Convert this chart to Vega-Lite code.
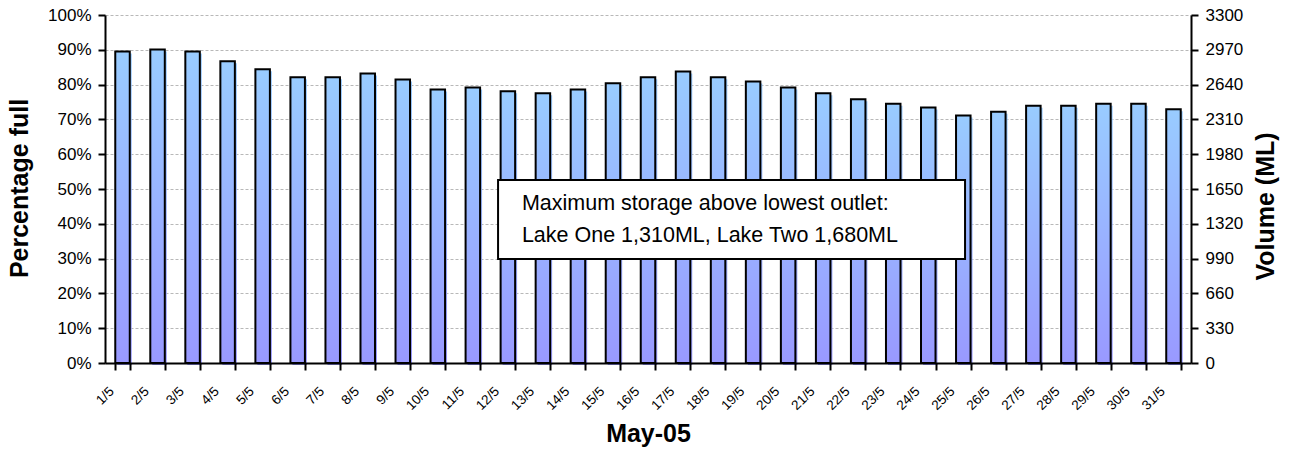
{
  "$schema": "https://vega.github.io/schema/vega-lite/v6.json",
  "width": 1086,
  "height": 348,
  "autosize": {"type": "none"},
  "padding": {"left": 105, "top": 15, "right": 98, "bottom": 96},
  "background": "white",
  "config": {
    "font": "Liberation Sans",
    "view": {"stroke": null},
    "axis": {"labelFont": "Liberation Sans", "titleFont": "Liberation Sans", "labelColor": "black", "titleColor": "black"}
  },
  "datasets": {
    "days": [
      {"day": "1/5", "pct": 89.5, "vol": 2954},
      {"day": "2/5", "pct": 90.1, "vol": 2973},
      {"day": "3/5", "pct": 89.5, "vol": 2954},
      {"day": "4/5", "pct": 86.7, "vol": 2861},
      {"day": "5/5", "pct": 84.4, "vol": 2785},
      {"day": "6/5", "pct": 82.1, "vol": 2709},
      {"day": "7/5", "pct": 82.1, "vol": 2709},
      {"day": "8/5", "pct": 83.2, "vol": 2746},
      {"day": "9/5", "pct": 81.5, "vol": 2690},
      {"day": "10/5", "pct": 78.6, "vol": 2594},
      {"day": "11/5", "pct": 79.2, "vol": 2614},
      {"day": "12/5", "pct": 78.1, "vol": 2577},
      {"day": "13/5", "pct": 77.5, "vol": 2558},
      {"day": "14/5", "pct": 78.6, "vol": 2594},
      {"day": "15/5", "pct": 80.4, "vol": 2653},
      {"day": "16/5", "pct": 82.1, "vol": 2709},
      {"day": "17/5", "pct": 83.8, "vol": 2765},
      {"day": "18/5", "pct": 82.1, "vol": 2709},
      {"day": "19/5", "pct": 80.9, "vol": 2670},
      {"day": "20/5", "pct": 79.2, "vol": 2614},
      {"day": "21/5", "pct": 77.5, "vol": 2558},
      {"day": "22/5", "pct": 75.8, "vol": 2501},
      {"day": "23/5", "pct": 74.5, "vol": 2459},
      {"day": "24/5", "pct": 73.4, "vol": 2422},
      {"day": "25/5", "pct": 71.1, "vol": 2346},
      {"day": "26/5", "pct": 72.2, "vol": 2383},
      {"day": "27/5", "pct": 73.9, "vol": 2439},
      {"day": "28/5", "pct": 73.9, "vol": 2439},
      {"day": "29/5", "pct": 74.5, "vol": 2459},
      {"day": "30/5", "pct": 74.5, "vol": 2459},
      {"day": "31/5", "pct": 72.9, "vol": 2406}
    ],
    "box": [
      {"x1": 11.22, "x2": 24.55, "y1": 52.6, "y2": 29.9}
    ],
    "note": [
      {"tx": 11.9, "ty": 43.97, "label": "Maximum storage above lowest outlet:"},
      {"tx": 11.9, "ty": 34.77, "label": "Lake One 1,310ML, Lake Two 1,680ML"}
    ]
  },
  "layer": [
    {
      "data": {"name": "days"},
      "mark": {
        "type": "bar",
        "fill": {"gradient": "linear", "x1": 0, "y1": 0, "x2": 0, "y2": 1,
          "stops": [{"offset": 0, "color": "#99ccff"}, {"offset": 1, "color": "#9999ff"}]},
        "xOffset": 2, "yOffset": 2
      },
      "encoding": {
        "x": {
          "field": "day", "type": "nominal", "sort": null,
          "scale": {"paddingInner": 0.586, "paddingOuter": 0.293},
          "axis": {
            "title": "May-05", "titleFontSize": 25, "titleFontWeight": "bold", "titlePadding": 9,
            "labelAngle": -45, "labelAlign": "right", "labelBaseline": "top", "labelFontSize": 13.5,
            "labelOffset": -16, "labelPadding": 14,
            "tickBand": "extent", "tickSize": 7, "tickWidth": 2, "tickColor": "black",
            "domainColor": "black", "domainWidth": 2, "zindex": 1
          }
        },
        "y": {
          "field": "pct", "type": "quantitative",
          "scale": {"domain": [0, 100], "nice": false},
          "axis": {
            "orient": "left",
            "values": [0, 10, 20, 30, 40, 50, 60, 70, 80, 90, 100],
            "labelExpr": "datum.value + '%'",
            "labelFontSize": 17, "labelPadding": 7,
            "tickSize": 7, "tickWidth": 2, "tickColor": "black",
            "domainColor": "black", "domainWidth": 2,
            "grid": true, "gridColor": "#b8b8b8", "gridDash": [3, 2], "gridWidth": 1,
            "title": "Percentage full", "titleFontSize": 25, "titleFontWeight": "bold", "titlePadding": 15,
            "titleY": 173
          }
        }
      }
    },
    {
      "data": {"name": "days"},
      "mark": {
        "type": "bar",
        "fill": {"gradient": "linear", "x1": 0, "y1": 0, "x2": 0, "y2": 1,
          "stops": [{"offset": 0, "color": "#99ccff"}, {"offset": 1, "color": "#9999ff"}]},
        "stroke": "black",
        "strokeWidth": 2
      },
      "encoding": {
        "x": {"field": "day", "type": "nominal", "sort": null, "scale": {"paddingInner": 0.586, "paddingOuter": 0.293}, "axis": null},
        "y": {"field": "pct", "type": "quantitative", "scale": {"domain": [0, 100], "nice": false}, "axis": null}
      }
    },
    {
      "data": {"name": "days"},
      "mark": {"type": "bar", "opacity": 0},
      "encoding": {
        "x": {"field": "day", "type": "nominal", "sort": null, "axis": null},
        "y": {
          "field": "vol", "type": "quantitative",
          "scale": {"domain": [0, 3300], "nice": false},
          "axis": {
            "orient": "right",
            "values": [0, 330, 660, 990, 1320, 1650, 1980, 2310, 2640, 2970, 3300],
            "format": "d",
            "labelFontSize": 17, "labelPadding": 7,
            "tickSize": 7, "tickWidth": 2, "tickColor": "black",
            "domainColor": "black", "domainWidth": 2, "grid": false,
            "title": "Volume (ML)", "titleAngle": -90, "titleBaseline": "top", "titleAlign": "center",
            "titleFontSize": 25, "titleFontWeight": "bold", "titlePadding": 11, "titleY": 191
          }
        }
      }
    },
    {
      "data": {"name": "box"},
      "mark": {"type": "rect", "fill": "white", "stroke": "black", "strokeWidth": 2},
      "encoding": {
        "x": {"field": "x1", "type": "quantitative", "scale": {"domain": [0, 31], "nice": false, "zero": false}, "axis": null},
        "x2": {"field": "x2"},
        "y": {"field": "y1", "type": "quantitative", "scale": {"domain": [0, 100], "nice": false}, "axis": null},
        "y2": {"field": "y2"}
      }
    },
    {
      "data": {"name": "note"},
      "mark": {"type": "text", "align": "left", "baseline": "alphabetic", "fontSize": 21.5, "color": "black", "font": "Liberation Sans"},
      "encoding": {
        "x": {"field": "tx", "type": "quantitative", "scale": {"domain": [0, 31], "nice": false, "zero": false}, "axis": null},
        "y": {"field": "ty", "type": "quantitative", "scale": {"domain": [0, 100], "nice": false}, "axis": null},
        "text": {"field": "label"}
      }
    }
  ],
  "resolve": {"scale": {"x": "independent", "y": "independent"}}
}
